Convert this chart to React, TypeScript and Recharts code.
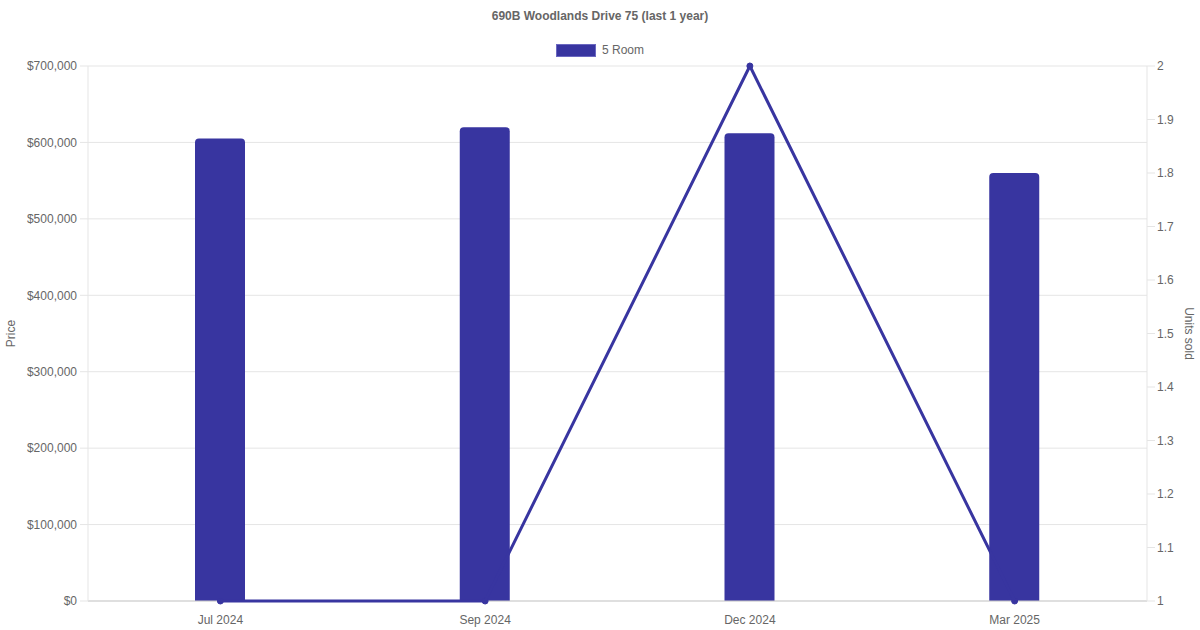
import { ComposedChart, Bar, Line, XAxis, YAxis, CartesianGrid } from "recharts"

const months = ["Jul 2024", "Sep 2024", "Dec 2024", "Mar 2025"]
const prices = [605000, 620000, 612000, 560000]
const unitsSold = [1, 1, 2, 1]
const priceTicks = [0, 100000, 200000, 300000, 400000, 500000, 600000, 700000]
const unitTicks = [1, 1.1, 1.2, 1.3, 1.4, 1.5, 1.6, 1.7, 1.8, 1.9, 2]

const data = months.map((month, i) => ({ month, price: prices[i], units: unitsSold[i] }))

const COLOR = "#3835a0"
const FONT = "'Helvetica Neue', Helvetica, Arial, 'Liberation Sans', sans-serif"
const tickStyle = { fill: "#666", fontSize: 12, fontFamily: FONT }

const fmtPrice = (v: number) => "$" + v.toLocaleString("en-US")

export default function App() {
  return (
    <div style={{ position: "fixed", left: 0, top: 0, width: 1200, height: 630, background: "#fff", fontFamily: FONT }}>
      <div style={{ position: "absolute", top: 9, width: 1200, textAlign: "center", fontSize: 12, fontWeight: "bold", color: "#666" }}>
        690B Woodlands Drive 75 (last 1 year)
      </div>
      <div style={{ position: "absolute", top: 43, left: 556, display: "flex", alignItems: "center", fontSize: 12, color: "#666" }}>
        <span style={{ display: "inline-block", width: 38, height: 11, background: COLOR, border: "1px solid #6b68c0", marginRight: 6 }} />
        5 Room
      </div>
      <ComposedChart width={1200} height={630} data={data} margin={{ top: 66, right: 0, bottom: 0, left: 0 }}>
        <CartesianGrid yAxisId="price" vertical={false} stroke="#e5e5e5" />
        <XAxis
          dataKey="month"
          height={29}
          tick={tickStyle}
          tickLine={false}
          axisLine={{ stroke: "#ccc" }}
          tickMargin={8}
        />
        <YAxis
          yAxisId="price"
          orientation="left"
          width={88}
          domain={[0, 700000]}
          ticks={priceTicks}
          tickFormatter={fmtPrice}
          tick={tickStyle}
          tickSize={8}
          tickMargin={3}
          tickLine={{ stroke: "#e5e5e5" }}
          axisLine={{ stroke: "#e5e5e5" }}
          label={{ value: "Price", angle: -90, position: "insideLeft", offset: 11, style: { textAnchor: "middle", fill: "#666", fontSize: 12, fontFamily: FONT } }}
        />
        <YAxis
          yAxisId="units"
          orientation="right"
          width={53}
          domain={[1, 2]}
          ticks={unitTicks}
          tick={tickStyle}
          tickSize={8}
          tickMargin={2}
          tickLine={{ stroke: "#e5e5e5" }}
          axisLine={{ stroke: "#e5e5e5" }}
          label={{ value: "Units sold", angle: 90, position: "insideRight", offset: 11, style: { textAnchor: "middle", fill: "#666", fontSize: 12, fontFamily: FONT } }}
        />
        <Bar yAxisId="price" dataKey="price" fill={COLOR} barSize={50} radius={[4, 4, 0, 0]} isAnimationActive={false} />
        <Line
          yAxisId="units"
          dataKey="units"
          type="linear"
          stroke={COLOR}
          strokeWidth={3}
          dot={{ r: 3, fill: COLOR, stroke: COLOR, strokeWidth: 1 }}
          zIndex={600}
          isAnimationActive={false}
        />
      </ComposedChart>
    </div>
  )
}
